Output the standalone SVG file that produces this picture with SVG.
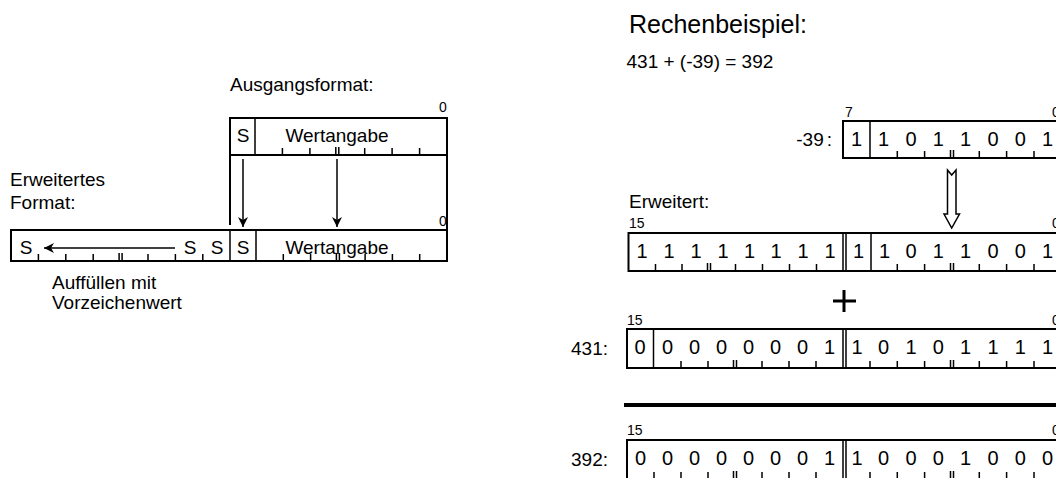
<svg xmlns="http://www.w3.org/2000/svg" width="1056" height="478" viewBox="0 0 1056 478">
<style>
text{font-family:"Liberation Sans",Arial,sans-serif;fill:#000}
.t{font-size:19px}
.ttl{font-size:25px}
.sm{font-size:14px}
.d{font-size:20px;text-anchor:middle}
.m{text-anchor:middle}
.e{text-anchor:end}
.box{fill:none;stroke:#000;stroke-width:2}
.ln{fill:none;stroke:#000;stroke-width:1.5}
.con{fill:none;stroke:#000;stroke-width:1.5}
</style>
<defs>
<marker id="ah" markerUnits="userSpaceOnUse" markerWidth="12" markerHeight="12" refX="10" refY="5" orient="auto">
<path d="M0,0 L10,5 L0,10 L3,5 z" fill="#000"/>
</marker>
</defs>

<!-- Left diagram -->
<g id="label-ausgang"><text class="t" x="230" y="91">Ausgangsformat:</text></g>
<g id="box-ausgang">
<text class="sm" x="439" y="112">0</text>
<rect class="box" x="230" y="118" width="217" height="37"/>
<path class="ln" d="M255 118V155 M282.4 155v-7 M309.9 155v-7 M335.8 155v-8 M338.8 155v-8 M364.7 155v-7 M392.1 155v-7 M419.6 155v-7"/>
<text class="t m" x="243" y="142">S</text>
<text class="t m" x="337" y="142">Wertangabe</text>
</g>
<g id="label-erweitert"><text class="t" x="10" y="186">Erweitertes</text><text class="t" x="10" y="209">Format:</text></g>
<g id="box-erweitert">
<text class="sm" x="439" y="226">0</text>
<rect class="box" x="11" y="230" width="436" height="31"/>
<path class="ln" d="M230 230V261 M256 230V261 M38.4 261v-7 M65.8 261v-7 M93.2 261v-7 M119.1 261v-8 M122.1 261v-8 M148 261v-7 M175.4 261v-7 M202.8 261v-7 M283.3 261v-7 M310.6 261v-7 M336.4 261v-8 M339.4 261v-8 M365.1 261v-7 M392.4 261v-7 M419.7 261v-7"/>
<text class="t m" x="26" y="254">S</text>
<text class="t m" x="190" y="254">S</text>
<text class="t m" x="217" y="254">S</text>
<text class="t m" x="243" y="254">S</text>
<text class="t m" x="337" y="254">Wertangabe</text>
<line class="con" x1="175" y1="248" x2="44" y2="248" marker-end="url(#ah)"/>
</g>
<g id="label-auffuellen"><text class="t" x="52" y="289">Auffüllen mit</text><text class="t" x="52" y="309">Vorzeichenwert</text></g>
<g id="connectors-left">
<line class="box" x1="230" y1="155" x2="230" y2="225"/>
<line class="box" x1="447" y1="155" x2="447" y2="230"/>
<line class="con" x1="243" y1="159" x2="243" y2="227" marker-end="url(#ah)"/>
<line class="con" x1="337" y1="159" x2="337" y2="227" marker-end="url(#ah)"/>
</g>

<!-- Right diagram -->
<g id="title"><text class="ttl" x="629" y="33">Rechenbeispiel:</text><text class="t" x="626.5" y="68">431 + (-39) = 392</text></g>

<g id="box-m39">
<text class="t e" x="832" y="146">-39<tspan dx="3">:</tspan></text>
<text class="sm" x="845" y="117">7</text>
<text class="sm" x="1052" y="117">0</text>
<rect class="box" x="843" y="121" width="220" height="37"/>
<path class="ln" d="M870 121V158 M897.3 158v-7 M924.6 158v-7 M950.5 158v-8 M953.5 158v-8 M979.3 158v-7 M1006.6 158v-7 M1034 158v-7"/>
<text class="d" x="856.5" y="146">1</text>
<text class="d" x="883.6" y="146">1</text>
<text class="d" x="911" y="146">0</text>
<text class="d" x="938.3" y="146">1</text>
<text class="d" x="965.6" y="146">1</text>
<text class="d" x="993" y="146">0</text>
<text class="d" x="1020.3" y="146">0</text>
<text class="d" x="1047.6" y="146">1</text>
</g>

<g id="connectors-right">
<path d="M947.5 170 L951.7 175 L956 170 L956 214 L959.5 214 L951.7 228 L944 214 L947.5 214 Z" fill="#fff" stroke="#000" stroke-width="1.5" stroke-linejoin="miter"/>
</g>

<g id="box-ext">
<text class="t" x="629" y="208">Erweitert:</text>
<text class="sm" x="629" y="228">15</text>
<text class="sm" x="1052" y="228">0</text>
<rect class="box" x="628.5" y="233" width="434" height="38"/>
<path class="ln" d="M843 233V271 M846 233V271 M871 233V271 M655.5 271v-7 M682 271v-7 M707.5 271v-8 M710.5 271v-8 M735.5 271v-7 M762.5 271v-7 M789.5 271v-7 M816.5 271v-7 M897.3 271v-7 M924.6 271v-7 M950.5 271v-8 M953.5 271v-8 M979.3 271v-7 M1006.6 271v-7 M1034 271v-7"/>
<text class="d" x="642" y="258">1</text>
<text class="d" x="669" y="258">1</text>
<text class="d" x="696" y="258">1</text>
<text class="d" x="723" y="258">1</text>
<text class="d" x="749.5" y="258">1</text>
<text class="d" x="776" y="258">1</text>
<text class="d" x="803" y="258">1</text>
<text class="d" x="830" y="258">1</text>
<text class="d" x="858.5" y="258">1</text>
<text class="d" x="884.6" y="258">1</text>
<text class="d" x="911" y="258">0</text>
<text class="d" x="938.3" y="258">1</text>
<text class="d" x="965.6" y="258">1</text>
<text class="d" x="993" y="258">0</text>
<text class="d" x="1020.3" y="258">0</text>
<text class="d" x="1047.6" y="258">1</text>
</g>

<g id="plus"><path d="M833 299.5H856V302.5H833Z M842.5 290H845.5V312H842.5Z" fill="#000"/></g>

<g id="box-431">
<text class="t e" x="608" y="355">431:</text>
<text class="sm" x="627" y="325">15</text>
<text class="sm" x="1052" y="325">0</text>
<rect class="box" x="627" y="329" width="436" height="39"/>
<path class="ln" d="M653.5 329V368 M843 329V368 M846 329V368 M681 368v-7 M708 368v-7 M733.5 368v-8 M736.5 368v-8 M762 368v-7 M789 368v-7 M816 368v-7 M870 368v-7 M897.3 368v-7 M924.6 368v-7 M950.5 368v-8 M953.5 368v-8 M979.3 368v-7 M1006.6 368v-7 M1034 368v-7"/>
<text class="d" x="640" y="354">0</text>
<text class="d" x="667.5" y="354">0</text>
<text class="d" x="694.5" y="354">0</text>
<text class="d" x="721.5" y="354">0</text>
<text class="d" x="748.5" y="354">0</text>
<text class="d" x="775.5" y="354">0</text>
<text class="d" x="802.5" y="354">0</text>
<text class="d" x="829.5" y="354">1</text>
<text class="d" x="857" y="354">1</text>
<text class="d" x="883.6" y="354">0</text>
<text class="d" x="911" y="354">1</text>
<text class="d" x="938.3" y="354">0</text>
<text class="d" x="965.6" y="354">1</text>
<text class="d" x="993" y="354">1</text>
<text class="d" x="1020.3" y="354">1</text>
<text class="d" x="1047.6" y="354">1</text>
</g>

<g id="sum-line"><line x1="624" y1="405" x2="1056" y2="405" stroke="#000" stroke-width="4"/></g>

<g id="box-392">
<text class="t e" x="608" y="466">392:</text>
<text class="sm" x="627" y="435">15</text>
<text class="sm" x="1052" y="435">0</text>
<rect class="box" x="627" y="440" width="436" height="39"/>
<path class="ln" d="M843 440V479 M846 440V479 M654 479v-7 M681 479v-7 M708 479v-7 M733.5 479v-8 M736.5 479v-8 M762 479v-7 M789 479v-7 M816 479v-7 M870 479v-7 M897.3 479v-7 M924.6 479v-7 M950.5 479v-8 M953.5 479v-8 M979.3 479v-7 M1006.6 479v-7 M1034 479v-7"/>
<text class="d" x="640.5" y="465">0</text>
<text class="d" x="667.5" y="465">0</text>
<text class="d" x="694.5" y="465">0</text>
<text class="d" x="721.5" y="465">0</text>
<text class="d" x="748.5" y="465">0</text>
<text class="d" x="775.5" y="465">0</text>
<text class="d" x="802.5" y="465">0</text>
<text class="d" x="829.5" y="465">1</text>
<text class="d" x="857" y="465">1</text>
<text class="d" x="883.6" y="465">0</text>
<text class="d" x="911" y="465">0</text>
<text class="d" x="938.3" y="465">0</text>
<text class="d" x="965.6" y="465">1</text>
<text class="d" x="993" y="465">0</text>
<text class="d" x="1020.3" y="465">0</text>
<text class="d" x="1047.6" y="465">0</text>
</g>
</svg>
